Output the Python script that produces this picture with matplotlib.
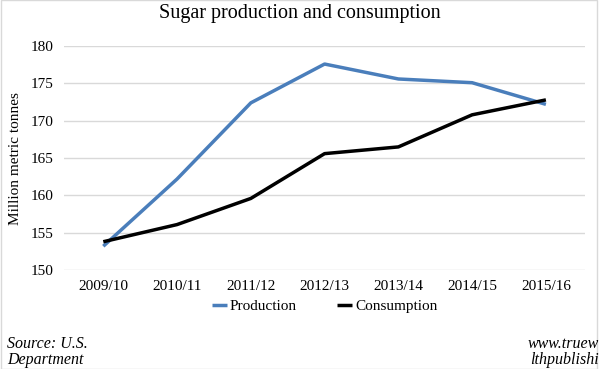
import matplotlib
matplotlib.use("Agg")
import matplotlib.pyplot as plt
from matplotlib.patches import Rectangle

categories = ["2009/10", "2010/11", "2011/12", "2012/13", "2013/14", "2014/15", "2015/16"]
production = [153.2, 162.2, 172.4, 177.6, 175.6, 175.1, 172.2]
consumption = [153.8, 156.1, 159.6, 165.6, 166.5, 170.8, 172.8]
yticks = [150, 155, 160, 165, 170, 175, 180]

plt.rcParams['font.family'] = ['Liberation Serif', 'DejaVu Serif']

fig = plt.figure(figsize=(6.0, 3.69), dpi=100)
ax = fig.add_axes([0.107, 0.268, 0.868, 0.607])

x = list(range(len(categories)))
ax.plot(x, production, color='#4a7ebb', lw=2.5, label='Production', solid_capstyle='butt')
ax.plot(x, consumption, color='black', lw=2.5, label='Consumption', solid_capstyle='butt')

ax.set_xlim(-0.53, 6.53)
ax.set_ylim(150, 180)
ax.set_yticks(yticks)
ax.set_xticks(x)
ax.set_xticklabels(categories, fontsize=11)
ax.tick_params(axis='y', labelsize=11, length=0, pad=8)
ax.tick_params(axis='x', length=0, pad=7)
ax.grid(axis='y', color='#d9d9d9', lw=1)
ax.set_axisbelow(True)
for s in ax.spines.values():
    s.set_visible(False)
ax.set_ylabel('Million metric tonnes', fontsize=11, labelpad=6)

fig.suptitle('Sugar production and consumption', fontsize=14.5, y=0.99)

ax.legend(loc='upper center', bbox_to_anchor=(0.5, -0.07), ncol=2, frameon=False,
          fontsize=11, handlelength=1.0, handletextpad=0.2, columnspacing=2.6)

fig.text(0.012, 0.068, 'Source: U.S.', fontsize=11.5, style='italic', ha='left', va='center')
fig.text(0.012, 0.024, 'Department', fontsize=11.5, style='italic', ha='left', va='center')
fig.text(0.998, 0.068, 'www.truew', fontsize=11.5, style='italic', ha='right', va='center')
fig.text(0.998, 0.024, 'lthpublishi', fontsize=11.5, style='italic', ha='right', va='center')

fig.patches.append(Rectangle((0.0015, 0.0), 0.993, 0.999, transform=fig.transFigure,
                             fill=False, edgecolor='#d9d9d9', lw=1))

fig.savefig('out.png', dpi=100)
